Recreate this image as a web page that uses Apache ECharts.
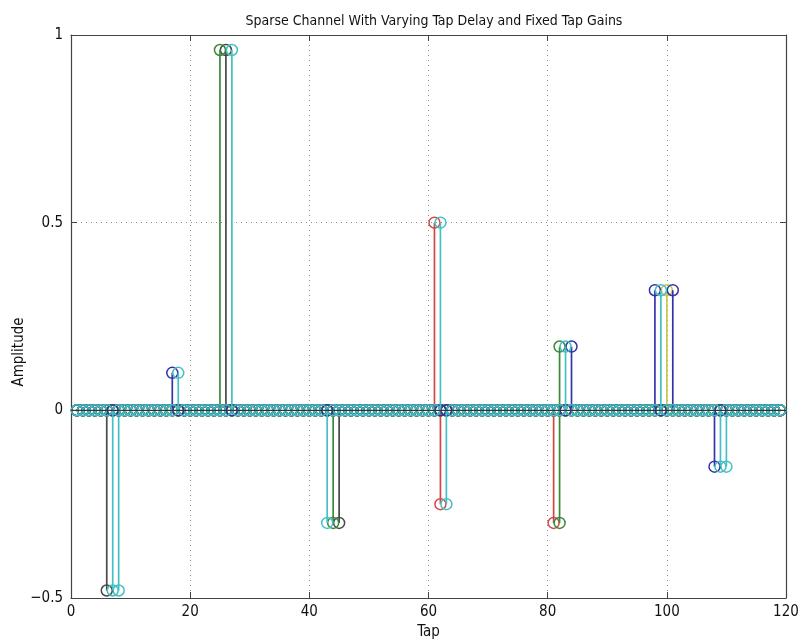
<!DOCTYPE html>
<html>
<head>
<meta charset="utf-8">
<title>Sparse Channel</title>
<script src="https://cdn.jsdelivr.net/npm/echarts@6/dist/echarts.min.js"></script>
<style>
  html, body { margin: 0; padding: 0; background: #fff; }
  #chart { width: 801px; height: 642px; }
</style>
</head>
<body>
<div id="chart"></div>
<script>
// Tap indices of the channel impulse response
const tapCount = 119;

// Non-zero taps of each realisation (tap index, gain)
const cyanBTaps = [8, 110];
const cyanBGains = [-0.48, -0.15];

const blackTaps = [6, 26, 45];
const blackGains = [-0.48, 0.96, -0.3];

const redTaps = [61, 62, 81];
const redGains = [0.5, -0.25, -0.3];

const yellowTaps = [100];
const yellowGains = [0.32];

const greenTaps = [25, 44, 82];
const greenGains = [0.96, -0.3, -0.3];

const greenBTaps = [82];
const greenBGains = [0.17];

const blueTaps = [17, 84, 98, 101, 108];
const blueGains = [0.1, 0.17, 0.32, 0.32, -0.15];

const cyanTaps = [7, 18, 27, 43, 62, 63, 83, 99, 109];
const cyanGains = [-0.48, 0.1, 0.96, -0.3, 0.5, -0.25, 0.17, 0.32, -0.15];

const xTicks = [0, 20, 40, 60, 80, 100, 120];
const yTicks = [-0.5, 0, 0.5, 1];

const realisations = [
  { taps: cyanBTaps, gains: cyanBGains, color: '#44c0c4' },
  { taps: blackTaps, gains: blackGains, color: '#484848' },
  { taps: redTaps, gains: redGains, color: '#d24646' },
  { taps: yellowTaps, gains: yellowGains, color: '#c8c84e' },
  { taps: greenTaps, gains: greenGains, color: '#378a37' },
  { taps: greenBTaps, gains: greenBGains, color: '#378a37' },
  { taps: blueTaps, gains: blueGains, color: '#3434aa' },
  { taps: cyanTaps, gains: cyanGains, color: '#44c0c4' }
];

function fullResponse(taps, gains) {
  const out = [];
  for (let k = 1; k <= tapCount; k++) {
    const i = taps.indexOf(k);
    out.push([k, i >= 0 ? gains[i] : 0]);
  }
  return out;
}

const FONT = '"Liberation Sans Narrow", "DejaVu Sans Condensed", "Liberation Sans", sans-serif';

const series = [];
realisations.forEach(function (r, idx) {
  const data = fullResponse(r.taps, r.gains);
  // vertical stems from the zero line up/down to each gain
  series.push({
    type: 'custom',
    xAxisIndex: 0,
    yAxisIndex: 0,
    z: 2 + idx * 2,
    silent: true,
    data: data.filter(function (d) { return d[1] !== 0; }),
    renderItem: function (params, api) {
      const x = api.value(0);
      const y = api.value(1);
      const p0 = api.coord([x, 0]);
      const p1 = api.coord([x, y]);
      return {
        type: 'line',
        shape: { x1: p0[0], y1: p0[1], x2: p1[0], y2: p1[1] },
        style: { stroke: r.color, lineWidth: 1.7 }
      };
    }
  });
  // open circle markers at the tap values
  series.push({
    type: 'scatter',
    xAxisIndex: 0,
    yAxisIndex: 0,
    z: 3 + idx * 2,
    silent: true,
    symbol: 'circle',
    symbolSize: 11,
    itemStyle: { color: 'rgba(0,0,0,0)', borderColor: r.color, borderWidth: 1.5, opacity: 1 },
    data: data
  });
});

// baseline at zero
series.push({
  type: 'line',
  xAxisIndex: 0,
  yAxisIndex: 0,
  z: 40,
  silent: true,
  symbol: 'none',
  lineStyle: { color: '#333', width: 1.2 },
  data: [[0, 0], [120, 0]]
});

const chart = echarts.init(document.getElementById('chart'), null, { renderer: 'canvas' });
chart.setOption({
  backgroundColor: '#fff',
  animation: false,
  title: {
    text: 'Sparse Channel With Varying Tap Delay and Fixed Tap Gains',
    left: 429,
    top: 9,
    textAlign: 'center',
    textStyle: { fontFamily: FONT, fontSize: 14, fontWeight: 'normal', color: '#111' }
  },
  graphic: [
    {
      type: 'text',
      x: 12,
      y: 352,
      rotation: Math.PI / 2,
      style: {
        text: 'Amplitude',
        font: '15px ' + FONT,
        fill: '#111',
        textAlign: 'center',
        textVerticalAlign: 'top'
      }
    }
  ],
  grid: { left: 71, right: 15, top: 35, bottom: 44, containLabel: false, outerBoundsMode: 'none' },
  xAxis: [
    {
      type: 'value', min: 0, max: 120, interval: 20, position: 'bottom',
      name: 'Tap', nameLocation: 'middle', nameGap: 27,
      nameTextStyle: { fontFamily: FONT, fontSize: 15, color: '#111' },
      axisLine: { show: true, onZero: false, lineStyle: { color: '#444', width: 1.2 } },
      axisTick: { show: true, inside: true, length: 6, lineStyle: { color: '#444' } },
      axisLabel: { fontFamily: FONT, fontSize: 15, color: '#111', margin: 7 },
      splitLine: { show: true, lineStyle: { color: '#8a8a8a', type: [1, 4], width: 1 } }
    },
    {
      type: 'value', min: 0, max: 120, interval: 20, position: 'top',
      axisLine: { show: true, onZero: false, lineStyle: { color: '#444', width: 1.2 } },
      axisTick: { show: true, inside: true, length: 6, lineStyle: { color: '#444' } },
      axisLabel: { show: false },
      splitLine: { show: false }
    }
  ],
  yAxis: [
    {
      type: 'value', min: -0.5, max: 1, interval: 0.5, position: 'left',
      axisLine: { show: true, onZero: false, lineStyle: { color: '#444', width: 1.2 } },
      axisTick: { show: true, inside: true, length: 6, lineStyle: { color: '#444' } },
      axisLabel: {
        fontFamily: FONT, fontSize: 15, color: '#111', margin: 8,
        formatter: function (v) { return v < 0 ? '\u2212' + String(-v) : String(v); }
      },
      splitLine: { show: true, lineStyle: { color: '#8a8a8a', type: [1, 4], width: 1 } }
    },
    {
      type: 'value', min: -0.5, max: 1, interval: 0.5, position: 'right',
      axisLine: { show: true, onZero: false, lineStyle: { color: '#444', width: 1.2 } },
      axisTick: { show: true, inside: true, length: 6, lineStyle: { color: '#444' } },
      axisLabel: { show: false },
      splitLine: { show: false }
    }
  ],
  series: series
});
</script>
</body>
</html>
